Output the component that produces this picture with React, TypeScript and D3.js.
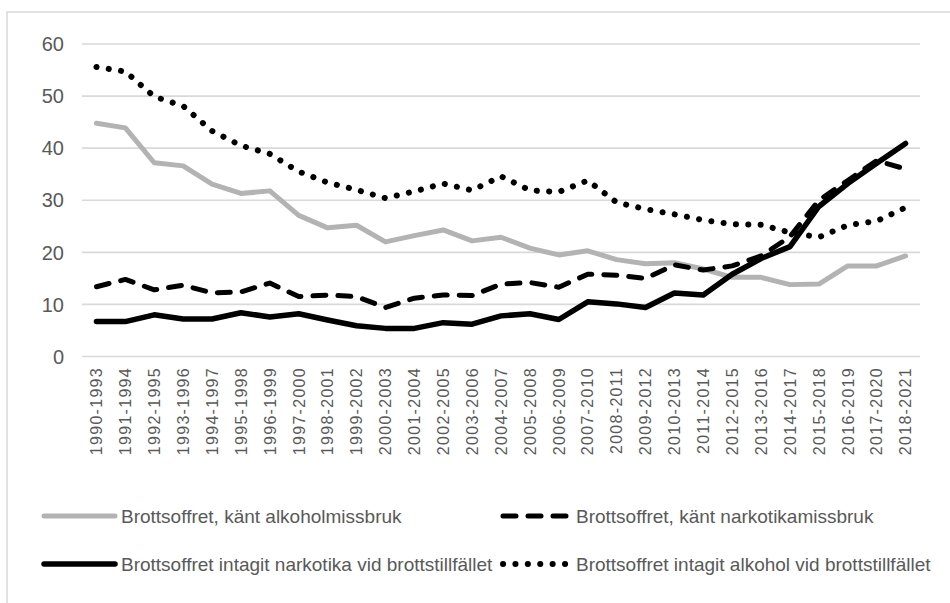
import React from "react";
import * as d3 from "d3";

const categories = [
  "1990-1993", "1991-1994", "1992-1995", "1993-1996", "1994-1997", "1995-1998",
  "1996-1999", "1997-2000", "1998-2001", "1999-2002", "2000-2003", "2001-2004",
  "2002-2005", "2003-2006", "2004-2007", "2005-2008", "2006-2009", "2007-2010",
  "2008-2011", "2009-2012", "2010-2013", "2011-2014", "2012-2015", "2013-2016",
  "2014-2017", "2015-2018", "2016-2019", "2017-2020", "2018-2021",
];

const kantAlkoholmissbruk = [44.8, 43.9, 37.2, 36.6, 33.1, 31.3, 31.8, 27.1, 24.7, 25.2, 22.0, 23.2, 24.3, 22.2, 22.9, 20.8, 19.5, 20.3, 18.6, 17.8, 18.0, 16.8, 15.2, 15.2, 13.8, 13.9, 17.4, 17.4, 19.3];
const kantNarkotikamissbruk = [13.4, 14.8, 12.8, 13.7, 12.2, 12.4, 14.1, 11.5, 11.8, 11.5, 9.4, 11.2, 11.8, 11.7, 13.9, 14.2, 13.3, 15.8, 15.6, 15.0, 17.6, 16.6, 17.4, 19.3, 23.0, 30.0, 33.8, 37.6, 36.0];
const intagitNarkotika = [6.7, 6.7, 8.0, 7.2, 7.2, 8.4, 7.6, 8.2, 7.0, 5.9, 5.4, 5.4, 6.5, 6.2, 7.8, 8.2, 7.1, 10.5, 10.1, 9.4, 12.2, 11.8, 15.8, 18.8, 21.1, 28.8, 33.2, 37.1, 40.9];
const intagitAlkohol = [55.6, 54.7, 49.9, 48.1, 43.3, 40.5, 38.9, 35.5, 33.4, 32.0, 30.4, 31.7, 33.2, 31.9, 34.6, 31.9, 31.6, 33.8, 29.6, 28.3, 27.3, 26.2, 25.4, 25.3, 23.8, 22.9, 25.2, 26.0, 28.6];

const yTicks = [0, 10, 20, 30, 40, 50, 60];

const seriesNames = [
  "Brottsoffret, känt alkoholmissbruk",
  "Brottsoffret, känt narkotikamissbruk",
  "Brottsoffret intagit narkotika vid brottstillfället",
  "Brottsoffret intagit alkohol vid brottstillfället",
];

const W = 950;
const H = 603;
const FONT = "'Liberation Sans', Arial, sans-serif";
const TEXT = "#595959";
const GRID = "#d9d9d9";

type Style = { color: string; width: number; dash?: string; cap: "round" | "butt" };

const styles: Style[] = [
  { color: "#b3b3b3", width: 5, cap: "round" },
  { color: "#000000", width: 5, dash: "13 12", cap: "round" },
  { color: "#000000", width: 5.5, cap: "round" },
  { color: "#000000", width: 6, dash: "0.1 12.3", cap: "round" },
];

export default function App() {
  const x = d3.scaleBand<string>().domain(categories).range([82, 920]).padding(0);
  const y = d3.scaleLinear().domain([0, 60]).range([356.5, 44]);
  const cx = (c: string) => (x(c) as number) + x.bandwidth() / 2;

  const line = d3
    .line<number>()
    .x((_, i) => cx(categories[i]))
    .y((v) => y(v));

  const data = [kantAlkoholmissbruk, kantNarkotikamissbruk, intagitNarkotika, intagitAlkohol];
  const drawOrder = [0, 1, 2, 3];

  const legendPos = [
    { lx: 42, ly: 516 },
    { lx: 501, ly: 516 },
    { lx: 42, ly: 564 },
    { lx: 501, ly: 564 },
  ];
  const legendLen = [75, 71, 75, 71];

  return (
    <svg
      width={W}
      height={H}
      style={{ position: "absolute", left: 0, top: 0, background: "#fff" }}
      fontFamily={FONT}
    >
      <rect x={7} y={12} width={W + 20} height={H + 20} fill="#fff" stroke={GRID} strokeWidth={1.5} />
      {yTicks.map((t) => (
        <g key={t}>
          <line x1={82} x2={920} y1={y(t)} y2={y(t)} stroke={GRID} strokeWidth={1.6} />
          <text x={64} y={y(t)} dy="0.36em" textAnchor="end" fontSize={20} fill={TEXT}>
            {t}
          </text>
        </g>
      ))}
      {categories.map((c) => (
        <text
          key={c}
          transform={`translate(${cx(c) + 5.8},367) rotate(-90)`}
          textAnchor="end"
          fontSize={16}
          letterSpacing={1.3}
          fill={TEXT}
        >
          {c}
        </text>
      ))}
      {drawOrder.map((k) => (
        <path
          key={k}
          d={line(data[k]) || ""}
          fill="none"
          stroke={styles[k].color}
          strokeWidth={styles[k].width}
          strokeDasharray={styles[k].dash}
          strokeLinecap={styles[k].cap}
          strokeLinejoin="round"
        />
      ))}
      {seriesNames.map((name, k) => {
        const p = legendPos[k];
        return (
          <g key={name}>
            <line
              x1={p.lx + 2}
              x2={p.lx + legendLen[k] - 2}
              y1={p.ly}
              y2={p.ly}
              stroke={styles[k].color}
              strokeWidth={styles[k].width}
              strokeDasharray={styles[k].dash}
              strokeLinecap={styles[k].cap}
            />
            <text x={p.lx + legendLen[k] + 4} y={p.ly} dy="0.36em" fontSize={19} fill={TEXT}>
              {name}
            </text>
          </g>
        );
      })}
    </svg>
  );
}
